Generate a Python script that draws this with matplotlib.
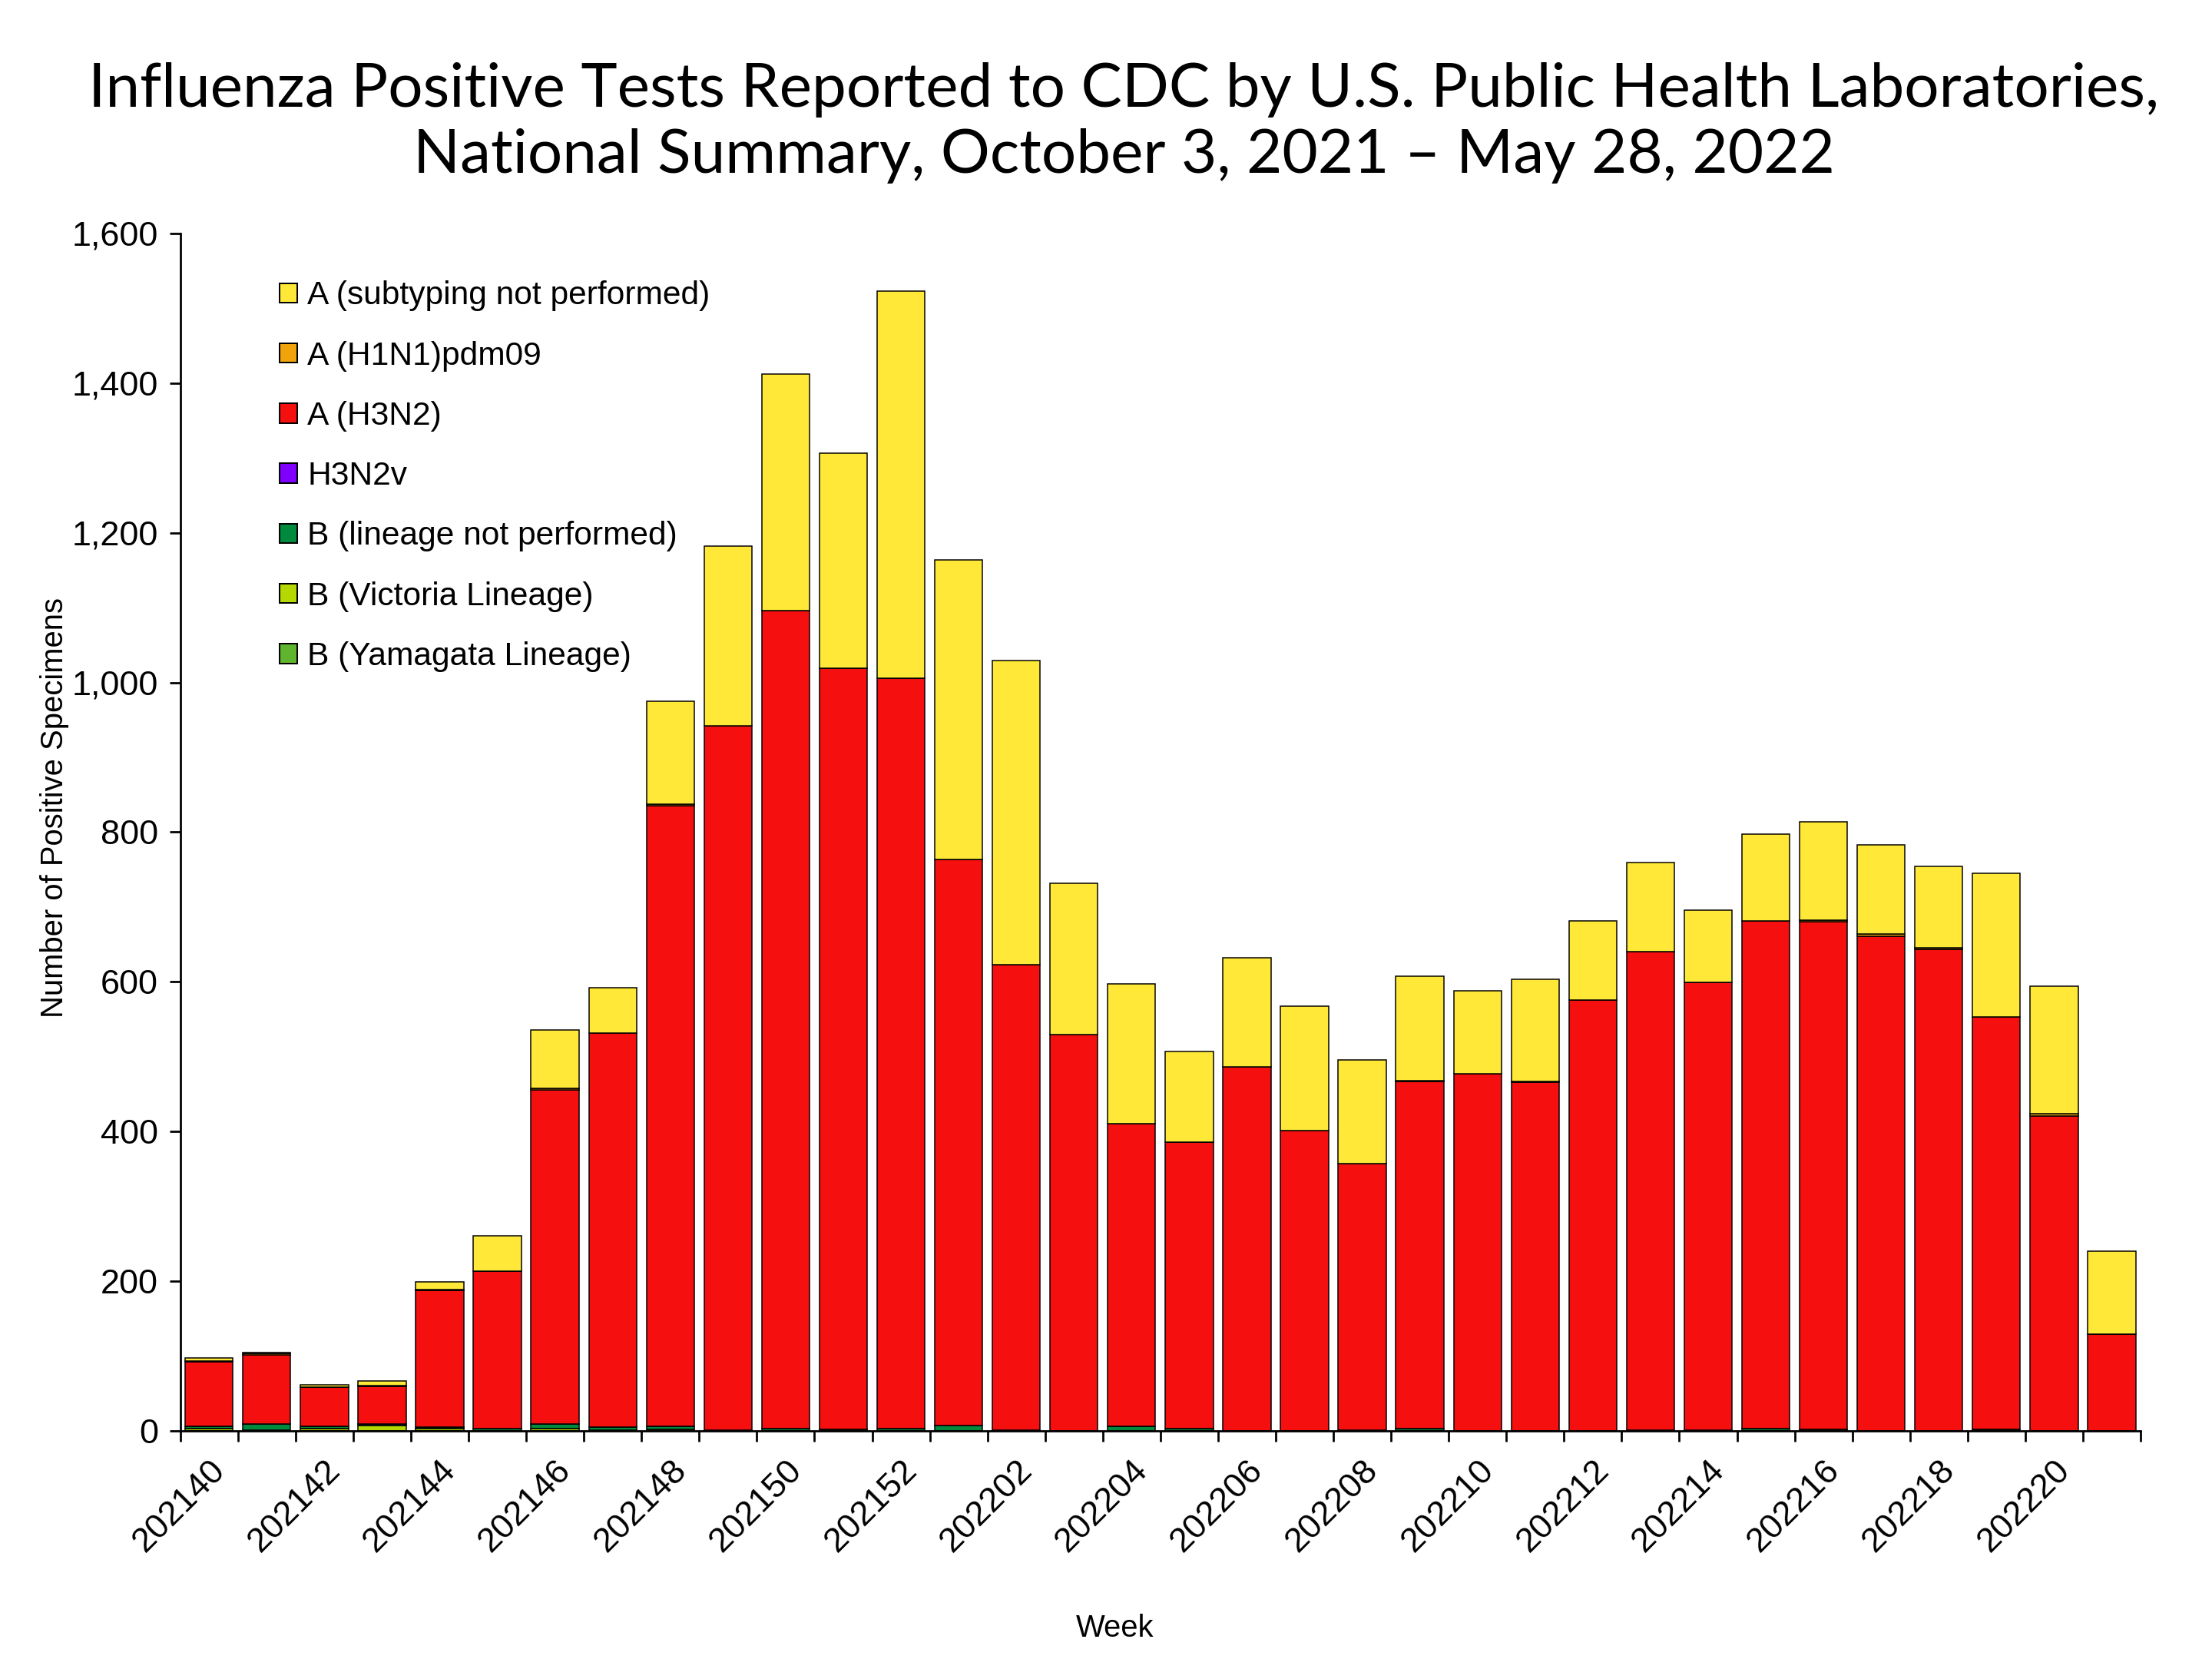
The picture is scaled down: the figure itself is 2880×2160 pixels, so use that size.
import numpy as np
import matplotlib
matplotlib.use("Agg")
import matplotlib.pyplot as plt
from matplotlib.patches import Patch
from matplotlib.ticker import FuncFormatter


weeks = [
    "202140", "202141", "202142", "202143", "202144", "202145", "202146",
    "202147", "202148", "202149", "202150", "202151", "202152", "202201",
    "202202", "202203", "202204", "202205", "202206", "202207", "202208",
    "202209", "202210", "202211", "202212", "202213", "202214", "202215",
    "202216", "202217", "202218", "202219", "202220", "202221",
]

b_yamagata = [0] * 34
b_victoria = [3, 1, 3, 7, 3, 0, 3, 1, 2, 0, 0, 0, 0, 0, 0, 0, 0,
              0, 0, 0, 0, 0, 0, 0, 0, 0, 0, 0, 0, 0, 0, 0, 0, 0]
b_lineage_np = [3, 8, 3, 2, 2, 3, 6, 4, 4, 1, 3, 2, 3, 7, 1, 0, 6,
                3, 0, 0, 1, 3, 0, 0, 0, 1, 1, 3, 2, 0, 0, 2, 0, 0]
h3n2v = [0] * 34
h3n2 = [86, 93, 53, 51, 183, 210, 447, 527, 829, 941, 1093, 1017, 1003,
        757, 622, 530, 404, 383, 486, 401, 356, 464, 477, 466, 576, 639,
        598, 678, 678, 661, 643, 551, 421, 129]
h1n1 = [1, 2, 0, 1, 1, 0, 2, 0, 2, 0, 0, 0, 0, 0, 0, 0, 0,
        0, 0, 0, 0, 1, 0, 1, 0, 0, 0, 0, 2, 3, 2, 0, 3, 0]
a_not_subtyped = [5, 1, 3, 6, 10, 48, 78, 60, 138, 240, 316, 287, 517,
                  400, 406, 202, 187, 121, 146, 167, 139, 140, 111, 136,
                  105, 119, 97, 116, 132, 119, 109, 192, 170, 111]

# bottom to top
series = [
    ("B (Yamagata Lineage)", b_yamagata, "#5FB52E"),
    ("B (Victoria Lineage)", b_victoria, "#B5D800"),
    ("B (lineage not performed)", b_lineage_np, "#008A3E"),
    ("H3N2v", h3n2v, "#7F00FF"),
    ("A (H3N2)", h3n2, "#F50F0F"),
    ("A (H1N1)pdm09", h1n1, "#F0A30A"),
    ("A (subtyping not performed)", a_not_subtyped, "#FFE838"),
]

plt.rcParams["font.family"] = ["Liberation Sans", "DejaVu Sans"]

fig = plt.figure(figsize=(16, 12), dpi=180)
ax = fig.add_axes([0.0815, 0.1375, 0.8862, 0.7218])

x = np.arange(len(weeks))
bottom = np.zeros(len(weeks))

for name, vals, color in series:
    vals = np.array(vals, dtype=float)
    ax.bar(
        x,
        vals,
        width=0.83,
        bottom=bottom,
        color=color,
        edgecolor="black",
        linewidth=0.6
    )
    bottom += vals

ax.set_xlim(-0.5, len(weeks) - 0.5)
ax.set_ylim(0, 1600)

ax.spines["top"].set_visible(False)
ax.spines["right"].set_visible(False)
ax.spines["left"].set_linewidth(1.1)
ax.spines["bottom"].set_linewidth(1.1)

ax.set_yticks(np.arange(0, 1601, 200))
ax.yaxis.set_major_formatter(FuncFormatter(lambda v, p: f"{int(v):,}"))
ax.tick_params(axis="y", direction="out", length=5.5, width=1.1,
               labelsize=18, pad=6)

ax.set_xticks(x[::2])
ax.set_xticklabels(weeks[::2], rotation=45, ha="right", va="top",
                   rotation_mode="anchor", fontsize=18)
ax.set_xticks(np.arange(-0.5, len(weeks)), minor=True)
ax.tick_params(axis="x", which="major", length=0, pad=12)
ax.tick_params(axis="x", which="minor", direction="out", length=5.5,
               width=1.1)

fig.text(0.0246, 0.513, "Number of Positive Specimens", rotation=90,
         ha="center", va="center", fontsize=16)
fig.text(0.504, 0.0185, "Week", ha="center", va="center", fontsize=16)

fig.text(0.508, 0.946,
         "Influenza Positive Tests Reported to CDC by U.S. Public Health Laboratories,",
         ha="center", va="center", fontsize=32, family="Lato")
fig.text(0.508, 0.906,
         "National Summary, October 3, 2021 \u2013 May 28, 2022",
         ha="center", va="center", fontsize=32, family="Lato")

handles = [
    Patch(facecolor=c, edgecolor="black", linewidth=0.8, label=n)
    for n, v, c in reversed(series)
]
fig.legend(
    handles=handles,
    loc="upper left",
    bbox_to_anchor=(0.119, 0.8407),
    frameon=False,
    fontsize=17,
    handlelength=0.55,
    handleheight=0.55,
    handletextpad=0.3,
    labelspacing=0.9,
    borderpad=0,
)

fig.savefig("out.png", dpi=180)
